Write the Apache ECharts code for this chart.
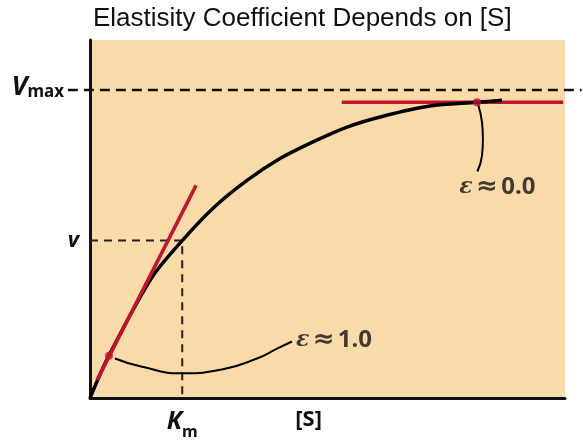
<!DOCTYPE html>
<html>
<head>
<meta charset="utf-8">
<script src="https://cdn.jsdelivr.net/npm/echarts@6/dist/echarts.min.js"></script>
<style>html,body{margin:0;padding:0;background:#fff}#c{width:583px;height:440px}</style>
</head>
<body>
<div id="c"></div>
<script>
// ---- data (x in units of Km, y in units of Vmax) ----
const titleText = 'Elastisity Coefficient Depends on [S]';
const xMax = 5.15;
const yMax = 1.16;
const Km = 1.0;
const kmV = 0.51;
const Vmax = 1.0;
const curveS = [0, 0.206, 0.672, 1.0, 1.334, 1.702, 2.06, 2.418, 2.787, 3.177, 3.686, 4.196, 4.467];
const curveV = [0, 0.138, 0.391, 0.51, 0.615, 0.705, 0.776, 0.830, 0.878, 0.913, 0.946, 0.958, 0.965];
const tangent1S = [0.076, 1.15];
const tangent1V = [0.058, 0.689];
const tangent2S = [2.73, 5.13];
const tangent2V = [0.958, 0.958];
const dotS = [0.206, 4.197];
const dotV = [0.137, 0.958];
const ann1S = [0.271, 0.542, 0.998, 1.442, 1.811, 2.028, 2.19];
const ann1V = [0.128, 0.103, 0.080, 0.093, 0.128, 0.160, 0.183];
const ann2S = [4.207, 4.25, 4.26, 4.25, 4.20];
const ann2V = [0.952, 0.894, 0.840, 0.785, 0.734];
const ann1Text = '1.0';
const ann2Text = '0.0';
const sLabelX = 2.37;
const vmaxLineS = [-0.24, 5.33];

const zip = (a, b) => a.map((v, i) => [v, b[i]]);
const RED = '#c4122f';
const FONT = 'Noto Sans';

const chart = echarts.init(document.getElementById('c'), null, {renderer: 'canvas'});
const gridL = 90, gridR = 18, gridT = 40, gridB = 38, W = 583;
const pxPerUnit = (W - gridL - gridR) / xMax;

chart.setOption({
  animation: false,
  title: {
    text: titleText, left: 88, top: 1,
    textStyle: {fontFamily: 'Liberation Sans', fontSize: 26, fontWeight: 'normal', color: '#111'}
  },
  grid: [
    {left: gridL, right: gridR, top: gridT, bottom: gridB, show: true, backgroundColor: '#f9dba9', borderWidth: 0},
    {left: 0, right: 0, top: gridT, bottom: gridB, show: false}
  ],
  xAxis: [
    {type: 'value', gridIndex: 0, min: 0, max: xMax,
     axisLine: {show: true, onZero: false, lineStyle: {color: '#111', width: 3}},
     axisTick: {show: false}, splitLine: {show: false},
     axisLabel: {
       customValues: [Km, sLabelX], margin: 11,
       formatter: v => v === Km ? '{K|K}{m|m}' : '{s|[S]}',
       rich: {
         K: {fontFamily: FONT, fontSize: 25, fontWeight: 'bold', fontStyle: 'italic', color: '#111', verticalAlign: 'bottom'},
         m: {fontFamily: FONT, fontSize: 16, fontWeight: 'bold', color: '#111', verticalAlign: 'bottom', padding: [0, 0, -6, 0]},
         s: {fontFamily: FONT, fontSize: 22, fontWeight: 'bold', color: '#111'}
       }
     }},
    {type: 'value', gridIndex: 1, min: -gridL / pxPerUnit, max: (W - gridL) / pxPerUnit, show: false}
  ],
  yAxis: [
    {type: 'value', gridIndex: 0, min: 0, max: yMax,
     axisLine: {show: true, onZero: false, lineStyle: {color: '#111', width: 3}},
     axisTick: {show: false}, splitLine: {show: false},
     axisLabel: {
       customValues: [kmV, Vmax], margin: 11,
       formatter: v => v === Vmax ? '{V|V}{sub|max}{gap|}' : '{v|v}',
       rich: {
         V: {fontFamily: FONT, fontSize: 27, fontWeight: 'bold', fontStyle: 'italic', color: '#111', padding: [0, 0, 5, 0]},
         sub: {fontFamily: FONT, fontSize: 17, fontWeight: 'bold', color: '#111', padding: [0, 0, -6, 0]},
         gap: {width: 15},
         v: {fontFamily: FONT, fontSize: 22, fontWeight: 'bold', fontStyle: 'italic', color: '#111'}
       }
     }},
    {type: 'value', gridIndex: 1, min: 0, max: yMax, show: false}
  ],
  series: [
    {type: 'line', xAxisIndex: 1, yAxisIndex: 1, data: zip(vmaxLineS, [Vmax, Vmax]), symbol: 'none', silent: true,
     lineStyle: {color: '#111', width: 2.5, type: [10, 6]}, z: 1},
    {type: 'line', data: [[0, kmV], [Km, kmV], [Km, 0]], symbol: 'none', silent: true,
     lineStyle: {color: '#222', width: 2, type: [8, 6]}, z: 1},
    {type: 'line', data: zip(curveS, curveV), symbol: 'none', smooth: 0.3,
     lineStyle: {color: '#000', width: 3.5}, z: 3},
    {type: 'line', data: zip(tangent1S, tangent1V), symbol: 'none', lineStyle: {color: RED, width: 3.5}, z: 4},
    {type: 'line', data: zip(tangent2S, tangent2V), symbol: 'none', lineStyle: {color: RED, width: 3.5}, z: 2},
    {type: 'scatter', data: zip(dotS, dotV), symbolSize: 8, itemStyle: {color: RED}, z: 5},
    {type: 'line', data: zip(ann1S, ann1V), symbol: 'none', smooth: 0.5, lineStyle: {color: '#000', width: 2}, z: 3},
    {type: 'line', data: zip(ann2S, ann2V), symbol: 'none', smooth: 0.5, lineStyle: {color: '#000', width: 2}, z: 3},
    {type: 'scatter', symbolSize: 0, z: 6,
     data: [
       {value: [ann1S[ann1S.length - 1], ann1V[ann1V.length - 1]], label: {position: 'right', distance: 4, offset: [0, -1], formatter: '{e|ε} {a|≈} {b|' + ann1Text + '}'}},
       {value: [ann2S[ann2S.length - 1], ann2V[ann2V.length - 1]], label: {position: 'bottom', distance: 3, offset: [20, 0], formatter: '{e|ε} {a|≈} {b|' + ann2Text + '}'}}
     ],
     label: {show: true, color: '#111',
       rich: {
         e: {fontFamily: 'DejaVu Serif', fontSize: 22, fontWeight: 'bold', fontStyle: 'italic', color: '#111'},
         a: {fontFamily: 'DejaVu Sans', fontSize: 26, fontWeight: 'bold', color: '#111'},
         b: {fontFamily: FONT, fontSize: 24, fontWeight: 'bold', color: '#111'}
       }}}
  ]
});
</script>
</body>
</html>
